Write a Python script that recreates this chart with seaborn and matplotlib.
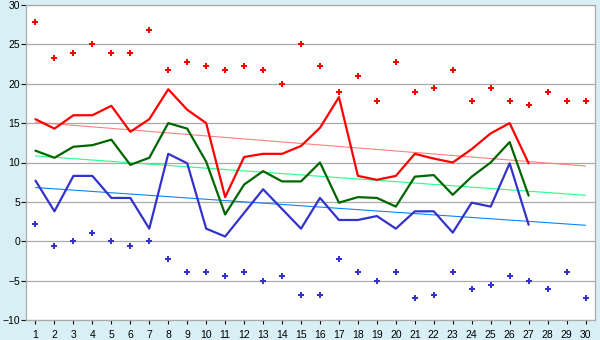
import matplotlib
matplotlib.use("Agg")
import matplotlib.pyplot as plt
import seaborn as sns
import pandas as pd

# Daily temperatures (°C) for days 1..27 of the month
days = list(range(1, 28))
t_max = [15.5, 14.3, 16.0, 16.0, 17.2, 13.9, 15.5, 19.3, 16.7, 15.0,
         5.6, 10.7, 11.1, 11.1, 12.1, 14.4, 18.3, 8.3, 7.8, 8.3,
         11.1, 10.5, 10.0, 11.7, 13.7, 15.0, 9.9]
t_mean = [11.5, 10.6, 12.0, 12.2, 12.9, 9.7, 10.6, 15.0, 14.3, 10.1,
          3.4, 7.2, 8.9, 7.6, 7.6, 10.0, 4.9, 5.6, 5.5, 4.4,
          8.2, 8.4, 5.9, 8.2, 10.0, 12.6, 5.8]
t_min = [7.7, 3.8, 8.3, 8.3, 5.5, 5.5, 1.6, 11.1, 9.9, 1.6,
         0.6, 3.6, 6.6, 4.1, 1.6, 5.5, 2.7, 2.7, 3.2, 1.6,
         3.8, 3.8, 1.1, 4.9, 4.4, 9.9, 2.1]

# Record extremes for each calendar day 1..30
rec_days = list(range(1, 31))
rec_max = [27.8, 23.3, 23.9, 25.0, 23.9, 23.9, 26.8, 21.7, 22.8, 22.2,
           21.7, 22.2, 21.7, 20.0, 25.0, 22.2, 18.9, 21.0, 17.8, 22.8,
           18.9, 19.4, 21.7, 17.8, 19.4, 17.8, 17.3, 18.9, 17.8, 17.8]
rec_min = [2.2, -0.6, 0.0, 1.1, 0.0, -0.6, 0.0, -2.2, -3.9, -3.9,
           -4.4, -3.9, -5.0, -4.4, -6.8, -6.8, -2.2, -3.9, -5.0, -3.9,
           -7.2, -6.8, -3.9, -6.1, -5.6, -4.4, -5.0, -6.1, -3.9, -7.2]

# Long-term normals at the start and end of the month
norm_days = [1, 30]
norm_max = [15.1, 9.55]
norm_mean = [10.83, 5.84]
norm_min = [6.82, 2.03]

x_ticks = list(range(1, 31))
y_ticks = list(range(-10, 31, 5))

daily = pd.DataFrame({"day": days, "max": t_max, "mean": t_mean, "min": t_min})
records = pd.DataFrame({"day": rec_days, "rmax": rec_max, "rmin": rec_min})
normals = pd.DataFrame({"day": norm_days, "max": norm_max,
                        "mean": norm_mean, "min": norm_min})

sns.set_style("white")
plt.rcParams["font.family"] = ["Liberation Sans", "DejaVu Sans"]

fig = plt.figure(figsize=(6, 3.4), dpi=100, facecolor="#d9eff6")
ax = fig.add_axes([26 / 600, 1 - 320 / 340, 569 / 600, 315 / 340])
ax.set_facecolor("white")

grid_c = "#aaaaaa"
for y in y_ticks:
    ax.axhline(y, color=grid_c, lw=0.9, zorder=0)

# normal lines
sns.lineplot(data=normals, x="day", y="max", ax=ax, color="#ff8080", lw=0.8)
sns.lineplot(data=normals, x="day", y="mean", ax=ax, color="#22ff88", lw=0.8)
sns.lineplot(data=normals, x="day", y="min", ax=ax, color="#0a84ff", lw=0.8)

# daily lines
sns.lineplot(data=daily, x="day", y="max", ax=ax, color="#ff0000", lw=1.6)
sns.lineplot(data=daily, x="day", y="mean", ax=ax, color="#006600", lw=1.6)
sns.lineplot(data=daily, x="day", y="min", ax=ax, color="#3333cc", lw=1.6)

# record extremes
sns.scatterplot(data=records, x="day", y="rmax", ax=ax, color="#ff0000",
                marker="P", s=20, linewidth=0)
sns.scatterplot(data=records, x="day", y="rmin", ax=ax, color="#3333cc",
                marker="P", s=20, linewidth=0)

ax.set_xlim(0.5, 30.5)
ax.set_ylim(-10, 30)
ax.set_xticks(x_ticks)
ax.set_xticklabels([str(v) for v in x_ticks])
ax.set_yticks(y_ticks)
ax.set_yticklabels([str(v).replace("-", "\u2212") for v in y_ticks])
ax.set_xlabel("")
ax.set_ylabel("")
ax.tick_params(axis="both", labelsize=7.5, labelcolor="#000000",
               color="#111111", width=0.8, direction="out")
ax.tick_params(axis="x", length=3, pad=4)
ax.tick_params(axis="y", length=3.6, pad=0.8)
ax.tick_params(left=True, bottom=True)
for s in ax.spines.values():
    s.set_visible(True)
    s.set_color(grid_c)
    s.set_linewidth(0.9)

fig.savefig("out.png", dpi=100, facecolor=fig.get_facecolor())
